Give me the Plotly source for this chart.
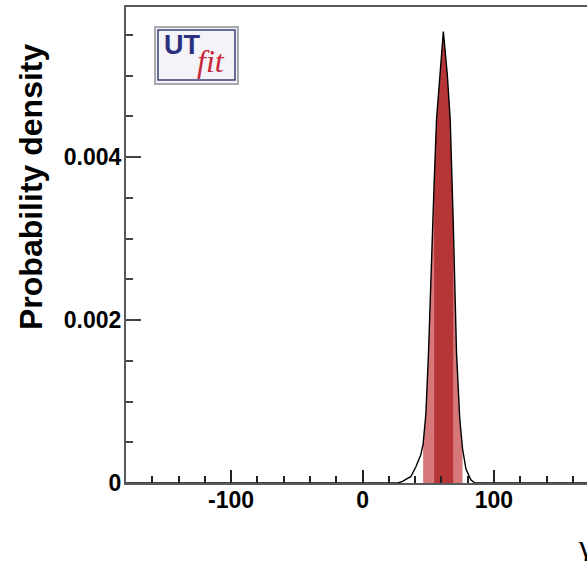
import plotly.graph_objects as go

# ---- data ----
gamma_deg = [-180, 20, 27.0, 30.4, 34.0, 36.8, 40.6, 44.4, 46.1, 48.2, 50.2, 52.5, 54.5,
             56.3, 59.2, 61.5, 64.5, 66.7, 69.0, 69.7, 71.5, 74.0, 76.1, 78.7,
             82.4, 85.0, 88.0, 180]
density = [0, 0, 0, 0.00002, 0.00005, 0.00008, 0.00020, 0.00035, 0.00048, 0.00085,
           0.00160, 0.00283, 0.00369, 0.00446, 0.00501, 0.00554, 0.00501, 0.00446,
           0.00321, 0.00283, 0.00160, 0.00078, 0.00042, 0.00017, 0.00004,
           0.000005, 0, 0]
interval_68 = [54.5, 69.0]
interval_95 = [46.1, 76.1]

x_major_vals = [-100, 0, 100]
x_major_text = ["-100", "0", "100"]
x_minor_vals = [-160, -140, -120, -80, -60, -40, -20, 20, 40, 60, 80, 120, 140, 160]
y_major_vals = [0, 0.002, 0.004]
y_major_text = ["0", "0.002", "0.004"]
y_minor_vals = [0.0005, 0.001, 0.0015, 0.0025, 0.003, 0.0035, 0.0045, 0.005, 0.0055]

W, H = 587, 561
L, R, T, B = 126, 0, 7, 78
pw, ph = W - L - R, H - T - B


def px(xp):
    return (xp - L) / pw


def py(yp):
    return (H - B - yp) / ph


def subset(lo, hi):
    xs = [x for x in gamma_deg if lo <= x <= hi]
    ys = [y for x, y in zip(gamma_deg, density) if lo <= x <= hi]
    return xs, ys


fig = go.Figure()
x95, y95 = subset(*interval_95)
fig.add_trace(go.Scatter(x=x95, y=y95, mode="lines", line=dict(width=0),
                         fill="tozeroy", fillcolor="rgb(214,120,122)",
                         hoverinfo="skip", showlegend=False))
x68, y68 = subset(*interval_68)
fig.add_trace(go.Scatter(x=x68, y=y68, mode="lines", line=dict(width=0),
                         fill="tozeroy", fillcolor="rgb(182,54,55)",
                         hoverinfo="skip", showlegend=False))
fig.add_trace(go.Scatter(x=gamma_deg, y=density, mode="lines",
                         line=dict(color="black", width=1.4),
                         showlegend=False))

tickfont = dict(family="Liberation Sans", size=23, color="black", weight="bold")
axcol = "#5a5a5a"
fig.update_xaxes(range=[-180, 170.8], showgrid=False, zeroline=False,
                 showline=True, linecolor=axcol, linewidth=2, mirror=True,
                 tickmode="array", tickvals=x_major_vals, ticktext=x_major_text,
                 ticks="inside", ticklen=13, tickwidth=2, tickcolor="#222",
                 tickfont=tickfont, ticklabelstandoff=-5,
                 minor=dict(tickmode="array", tickvals=x_minor_vals, ticks="inside",
                            ticklen=7, tickwidth=2, tickcolor="#222"))
fig.update_yaxes(range=[0, ph / 81500], showgrid=False, zeroline=False,
                 showline=True, linecolor=axcol, linewidth=2, mirror=False,
                 tickmode="array", tickvals=y_major_vals, ticktext=y_major_text,
                 ticks="inside", ticklen=15, tickwidth=2, tickcolor="#444",
                 tickfont=tickfont, ticklabelstandoff=-2,
                 minor=dict(tickmode="array", tickvals=y_minor_vals, ticks="inside",
                            ticklen=7, tickwidth=2, tickcolor="#444"))

annotations = [
    dict(text="Probability density", x=px(31), y=py(187), xref="paper", yref="paper",
         textangle=-90, showarrow=False, xanchor="center", yanchor="middle",
         font=dict(family="Liberation Sans", size=32, color="black", weight="bold")),
    dict(text="γ[°]", x=px(576), y=py(546), xref="paper", yref="paper",
         showarrow=False, xanchor="left", yanchor="middle",
         font=dict(family="Liberation Serif", size=32, color="black")),
    dict(text="UT", x=px(162), y=py(45), xref="paper", yref="paper",
         showarrow=False, xanchor="left", yanchor="middle",
         font=dict(family="Liberation Sans", size=27, color="#2b2f7e", weight="bold")),
    dict(text="<i>fit</i>", x=px(195), y=py(61), xref="paper", yref="paper",
         showarrow=False, xanchor="left", yanchor="middle",
         font=dict(family="Liberation Serif", size=32, color="#c8283a")),
]

shapes = [
    dict(type="rect", xref="paper", yref="paper", x0=px(155), x1=px(238),
         y0=py(84), y1=py(27), fillcolor="#f3f3f8",
         line=dict(color="#a8a8b0", width=2), layer="below"),
    dict(type="rect", xref="paper", yref="paper", x0=px(158), x1=px(235),
         y0=py(80), y1=py(30), fillcolor="rgba(0,0,0,0)",
         line=dict(color="#3a3f78", width=1.5), layer="below"),
]

fig.update_layout(width=W, height=H, margin=dict(l=L, r=R, t=T, b=B, pad=0),
                  plot_bgcolor="white", paper_bgcolor="white",
                  annotations=annotations, shapes=shapes)

fig.write_html("out.html")
